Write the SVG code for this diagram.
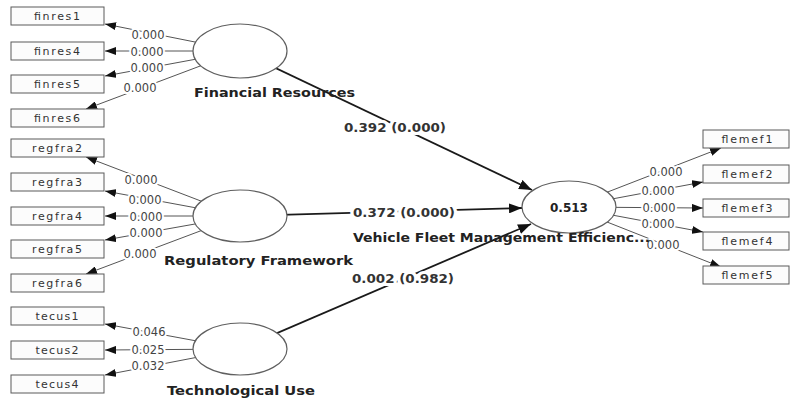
<svg xmlns="http://www.w3.org/2000/svg" width="791" height="398" viewBox="0 0 791 398">
<defs>
<style>
.box{fill:#fcfcfc;stroke:#5a5a5a;stroke-width:1}
.lv{fill:#ffffff;stroke:#5f5f5f;stroke-width:1.2}
.bt{font-family:"DejaVu Sans",Verdana,sans-serif;font-size:11px;fill:#333;text-anchor:middle}
.ttl{font-family:"DejaVu Sans",Verdana,sans-serif;font-size:12px;font-weight:bold;fill:#222}
.ol{stroke:#555;stroke-width:1;fill:none;marker-end:url(#ah)}
.sl{stroke:#1a1a1a;stroke-width:1.8;fill:none;marker-end:url(#ah2)}
.lb{font-family:"DejaVu Sans",Verdana,sans-serif;font-size:11.5px;fill:#444;text-anchor:middle;stroke:#fff;stroke-width:4;paint-order:stroke}
.pl{font-family:"DejaVu Sans",Verdana,sans-serif;font-size:12px;font-weight:bold;fill:#333;text-anchor:middle;stroke:#fff;stroke-width:6;paint-order:stroke}
</style>
<marker id="ah" markerUnits="userSpaceOnUse" markerWidth="11" markerHeight="8" refX="11" refY="4" orient="auto"><path d="M0,0 L11,4 L0,8 z" fill="#111"/></marker>
<marker id="ah2" markerUnits="userSpaceOnUse" markerWidth="13" markerHeight="10" refX="13" refY="5" orient="auto"><path d="M0,0 L13,5 L0,10 z" fill="#111"/></marker>
</defs>
<rect width="791" height="398" fill="#ffffff"/>
<g id="connectors">
<line class="ol" x1="240" y1="51" x2="105" y2="24"/>
<line class="ol" x1="240" y1="51" x2="105" y2="51"/>
<line class="ol" x1="240" y1="51" x2="105" y2="76"/>
<line class="ol" x1="240" y1="51" x2="86" y2="109"/>
<line class="ol" x1="240" y1="216" x2="86" y2="157"/>
<line class="ol" x1="240" y1="216" x2="105" y2="191"/>
<line class="ol" x1="240" y1="216" x2="105" y2="216"/>
<line class="ol" x1="240" y1="216" x2="105" y2="240"/>
<line class="ol" x1="240" y1="216" x2="86" y2="274"/>
<line class="ol" x1="240" y1="349" x2="105" y2="324"/>
<line class="ol" x1="240" y1="349" x2="105" y2="350"/>
<line class="ol" x1="240" y1="349" x2="105" y2="375"/>
<line class="ol" x1="569" y1="207" x2="721" y2="148"/>
<line class="ol" x1="569" y1="207" x2="703" y2="182"/>
<line class="ol" x1="569" y1="207" x2="703" y2="208"/>
<line class="ol" x1="569" y1="207" x2="703" y2="232"/>
<line class="ol" x1="569" y1="207" x2="721" y2="267"/>
<line class="sl" x1="240" y1="51" x2="532" y2="190"/>
<line class="sl" x1="240" y1="216" x2="522" y2="208"/>
<line class="sl" x1="240" y1="349" x2="531" y2="224"/>
<text class="lb" x="148" y="39">0.000</text>
<text class="lb" x="147" y="56">0.000</text>
<text class="lb" x="147" y="72">0.000</text>
<text class="lb" x="140" y="92">0.000</text>
<text class="lb" x="141" y="184">0.000</text>
<text class="lb" x="145" y="204">0.000</text>
<text class="lb" x="146" y="221">0.000</text>
<text class="lb" x="146" y="237">0.000</text>
<text class="lb" x="140" y="258">0.000</text>
<text class="lb" x="149" y="336">0.046</text>
<text class="lb" x="148" y="354">0.025</text>
<text class="lb" x="148" y="370">0.032</text>
<text class="lb" x="666" y="176">0.000</text>
<text class="lb" x="658" y="195">0.000</text>
<text class="lb" x="659" y="212">0.000</text>
<text class="lb" x="658" y="228">0.000</text>
<text class="lb" x="663" y="249">0.000</text>
<text class="pl" x="395" y="132" textLength="102" lengthAdjust="spacingAndGlyphs">0.392 (0.000)</text>
<text class="pl" x="404" y="217" textLength="102" lengthAdjust="spacingAndGlyphs">0.372 (0.000)</text>
<text class="pl" x="403" y="283" textLength="102" lengthAdjust="spacingAndGlyphs">0.002 (0.982)</text>
</g>
<g id="finres1"><rect class="box" x="11" y="7" width="93" height="18"/><text class="bt" x="57" y="20" textLength="46">finres1</text></g>
<g id="finres4"><rect class="box" x="11" y="42" width="93" height="18"/><text class="bt" x="57" y="55" textLength="46">finres4</text></g>
<g id="finres5"><rect class="box" x="11" y="75" width="93" height="18"/><text class="bt" x="57" y="88" textLength="46">finres5</text></g>
<g id="finres6"><rect class="box" x="11" y="109" width="93" height="18"/><text class="bt" x="57" y="122" textLength="46">finres6</text></g>
<g id="regfra2"><rect class="box" x="11" y="139" width="93" height="18"/><text class="bt" x="57" y="152" textLength="50">regfra2</text></g>
<g id="regfra3"><rect class="box" x="11" y="173" width="93" height="18"/><text class="bt" x="57" y="186" textLength="50">regfra3</text></g>
<g id="regfra4"><rect class="box" x="11" y="207" width="93" height="18"/><text class="bt" x="57" y="220" textLength="50">regfra4</text></g>
<g id="regfra5"><rect class="box" x="11" y="240" width="93" height="18"/><text class="bt" x="57" y="253" textLength="50">regfra5</text></g>
<g id="regfra6"><rect class="box" x="11" y="274" width="93" height="18"/><text class="bt" x="57" y="287" textLength="50">regfra6</text></g>
<g id="tecus1"><rect class="box" x="11" y="307" width="93" height="18"/><text class="bt" x="57" y="320" textLength="43">tecus1</text></g>
<g id="tecus2"><rect class="box" x="11" y="341" width="93" height="18"/><text class="bt" x="57" y="354" textLength="43">tecus2</text></g>
<g id="tecus4"><rect class="box" x="11" y="375" width="93" height="18"/><text class="bt" x="57" y="388" textLength="43">tecus4</text></g>
<g id="flemef1"><rect class="box" x="703" y="130" width="86" height="18"/><text class="bt" x="747" y="143" textLength="51">flemef1</text></g>
<g id="flemef2"><rect class="box" x="703" y="165" width="86" height="18"/><text class="bt" x="747" y="178" textLength="51">flemef2</text></g>
<g id="flemef3"><rect class="box" x="703" y="199" width="86" height="18"/><text class="bt" x="747" y="212" textLength="51">flemef3</text></g>
<g id="flemef4"><rect class="box" x="703" y="232" width="86" height="18"/><text class="bt" x="747" y="245" textLength="51">flemef4</text></g>
<g id="flemef5"><rect class="box" x="703" y="266" width="86" height="18"/><text class="bt" x="747" y="279" textLength="51">flemef5</text></g>
<g id="financial-resources"><ellipse class="lv" cx="240" cy="51" rx="47" ry="27"/><text class="ttl" x="194" y="97" textLength="161" lengthAdjust="spacingAndGlyphs">Financial Resources</text></g>
<g id="regulatory-framework"><ellipse class="lv" cx="240" cy="216" rx="47" ry="26"/><text class="ttl" x="164" y="265" textLength="189" lengthAdjust="spacingAndGlyphs">Regulatory Framework</text></g>
<g id="technological-use"><ellipse class="lv" cx="240" cy="349" rx="47" ry="26"/><text class="ttl" x="167" y="395" textLength="148" lengthAdjust="spacingAndGlyphs">Technological Use</text></g>
<g id="vehicle-fleet"><ellipse class="lv" cx="569" cy="207" rx="47" ry="26"/><text class="ttl" x="569" y="212" text-anchor="middle">0.513</text><text class="ttl" x="353" y="242" textLength="297" lengthAdjust="spacingAndGlyphs">Vehicle Fleet Management Efficienc...</text></g>
</svg>
